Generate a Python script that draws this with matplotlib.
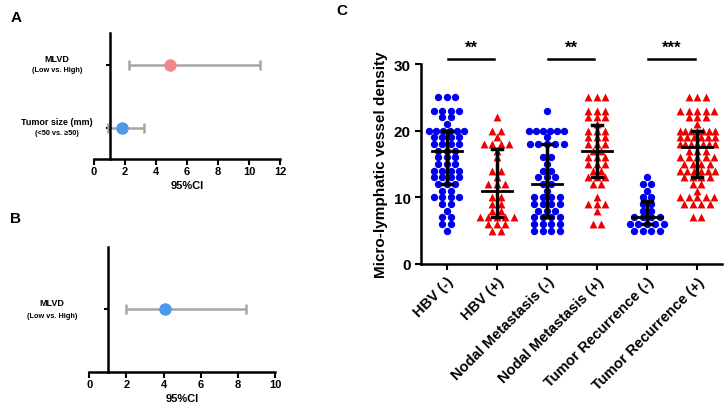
import numpy as np
import matplotlib
matplotlib.use("Agg")
import matplotlib.pyplot as plt

plt.rcParams['font.family'] = ['Liberation Sans', 'DejaVu Sans']
plt.rcParams['font.weight'] = 'bold'

# ---- Panel A / B: forest plots (odds ratio, 95% CI) ----
a_labels = ["MLVD", "Tumor size (mm)"]
a_sub = ["(Low vs. High)", "(<50 vs. \u226550)"]
a_or = [4.9, 1.8]
a_lo = [2.25, 0.9]
a_hi = [10.7, 3.25]
a_colors = ['#f08a8a', '#4f97e8']

b_labels = ["MLVD"]
b_sub = ["(Low vs. High)"]
b_or = [4.05]
b_lo = [1.95]
b_hi = [8.4]
b_colors = ['#4f97e8']

# ---- Panel C: MLVD per group (value -> count) ----
groups = ["HBV (-)", "HBV (+)", "Nodal Metastasis (-)", "Nodal Metastasis (+)",
          "Tumor Recurrence (-)", "Tumor Recurrence (+)"]
hbv_neg = {25: 3, 23: 4, 22: 2, 21: 1, 20: 6, 19: 4, 18: 4, 17: 3, 16: 3, 15: 3,
           14: 4, 13: 4, 12: 3, 11: 2, 10: 4, 9: 2, 8: 1, 7: 2, 6: 2, 5: 1}
hbv_pos = {22: 1, 20: 2, 19: 1, 18: 4, 17: 1, 16: 1, 14: 2, 13: 1, 12: 3,
           10: 2, 9: 2, 8: 2, 7: 5, 6: 3, 5: 2}
nodal_neg = {23: 1, 20: 6, 19: 1, 18: 5, 16: 2, 15: 1, 14: 2, 13: 3, 12: 2,
             11: 1, 10: 4, 9: 4, 8: 3, 7: 4, 6: 4, 5: 4}
nodal_pos = {25: 3, 23: 3, 22: 3, 21: 1, 20: 3, 19: 3, 18: 3, 17: 2, 16: 3,
             15: 3, 14: 2, 13: 3, 12: 2, 10: 1, 9: 3, 8: 1, 6: 2}
tumor_neg = {13: 1, 12: 2, 11: 1, 10: 2, 9: 2, 8: 2, 7: 4, 6: 5, 5: 4}
tumor_pos = {25: 3, 23: 5, 22: 3, 21: 1, 20: 7, 19: 6, 18: 7, 17: 3, 16: 5,
             15: 4, 14: 6, 13: 4, 12: 2, 11: 1, 10: 5, 9: 4, 7: 2}
group_data = [hbv_neg, hbv_pos, nodal_neg, nodal_pos, tumor_neg, tumor_pos]
medians = [17, 11, 12, 17, 7, 17.5]
q1 = [12, 7, 7, 13, 6, 13]
q3 = [20, 17.3, 18, 20.8, 9.5, 20]
sig_pairs = [(0, 1, "**"), (2, 3, "**"), (4, 5, "***")]

fig = plt.figure(figsize=(7.26, 4.06), dpi=100)


def forest(ax, labels, subs, ors, los, his, colors, xmax, step):
    ys = np.arange(len(labels), 0, -1)
    for y, o, lo, hi, c in zip(ys, ors, los, his, colors):
        ax.errorbar(o, y, xerr=[[o - lo], [hi - o]], fmt='none', ecolor='#a6a6a6',
                    elinewidth=1.8, capsize=3.5, capthick=1.8, zorder=2)
        ax.plot(o, y, 'o', color=c, markersize=8, zorder=3)
    ax.set_xlim(0, xmax)
    ax.set_ylim(0.5, len(labels) + 0.5)
    ax.set_xticks(np.arange(0, xmax + 1, step))
    ax.set_yticks(ys)
    ax.set_yticklabels([])
    ax.spines['left'].set_position(('data', 1))
    ax.spines['top'].set_visible(False)
    ax.spines['right'].set_visible(False)
    for s in ['left', 'bottom']:
        ax.spines[s].set_linewidth(1.8)
    ax.tick_params(axis='x', width=1.5, length=4, labelsize=8, pad=1)
    ax.tick_params(axis='y', width=1.5, length=3)
    ax.set_xlabel("95%CI", fontsize=8, fontweight='bold', labelpad=3)
    tr = matplotlib.transforms.blended_transform_factory(ax.transAxes, ax.transData)
    for y, lab, sub in zip(ys, labels, subs):
        ax.text(-0.2, y + 0.02, lab, transform=tr, ha='center', va='bottom',
                fontsize=6.5, fontweight='bold')
        ax.text(-0.2, y - 0.02, sub, transform=tr, ha='center', va='top',
                fontsize=5.3, fontweight='bold')


axA = fig.add_axes([0.1295, 0.6059, 0.2562, 0.3103])
forest(axA, a_labels, a_sub, a_or, a_lo, a_hi, a_colors, 12, 2)
axB = fig.add_axes([0.123, 0.082, 0.2562, 0.307])
forest(axB, b_labels, b_sub, b_or, b_lo, b_hi, b_colors, 10, 2)

# ---- Panel C ----
axC = fig.add_axes([0.58, 0.3473, 0.4146, 0.4926])
for i, d in enumerate(group_data):
    xs, ys = [], []
    for v, n in d.items():
        dx = min(0.17, 0.7 / max(n - 1, 1))
        for k in range(n):
            xs.append(i + (k - (n - 1) / 2) * dx)
            ys.append(v)
    if i % 2 == 0:
        axC.scatter(xs, ys, s=28, marker='o', color='#0000ee', linewidths=0, zorder=2)
    else:
        axC.scatter(xs, ys, s=32, marker='^', color='#ee0000', linewidths=0, zorder=2)
    axC.plot([i - 0.3, i + 0.3], [medians[i], medians[i]], color='black', lw=2, zorder=3)
    axC.plot([i, i], [q1[i], q3[i]], color='black', lw=2.5, zorder=3)
    for q in (q1[i], q3[i]):
        axC.plot([i - 0.1, i + 0.1], [q, q], color='black', lw=2.5, zorder=3)

for a, b, star in sig_pairs:
    axC.plot([a + 0.03, b - 0.05], [30.7, 30.7], color='black', lw=1.8, clip_on=False)
    axC.text((a + b) / 2, 31.4, star, ha='center', va='bottom', fontsize=12,
             fontweight='bold')

axC.set_xlim(-0.51, 5.5)
axC.set_ylim(0, 30)
axC.set_yticks([0, 10, 20, 30])
axC.set_xticks(range(len(groups)))
axC.set_xticklabels(groups, rotation=45, ha='right', rotation_mode='anchor',
                    fontsize=10.5, fontweight='bold')
axC.tick_params(axis='both', width=1.5, length=4)
axC.tick_params(axis='y', labelsize=11)
axC.set_ylabel("Micro-lymphatic vessel density", fontsize=11, fontweight='bold',
               labelpad=4)
axC.spines['top'].set_visible(False)
axC.spines['right'].set_visible(False)
for s in ['left', 'bottom']:
    axC.spines[s].set_linewidth(1.8)

fig.text(0.014, 0.955, "A", fontsize=11, fontweight='bold', va='center')
fig.text(0.014, 0.46, "B", fontsize=11, fontweight='bold', va='center')
fig.text(0.464, 0.973, "C", fontsize=11, fontweight='bold', va='center')

fig.savefig("out.png", dpi=100)
